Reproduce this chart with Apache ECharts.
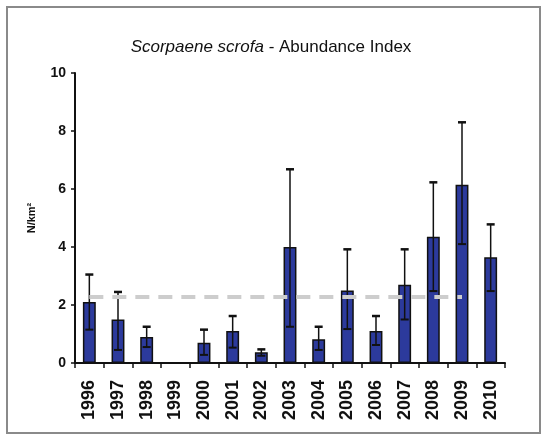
<!DOCTYPE html>
<html>
<head>
<meta charset="utf-8">
<script src="https://cdn.jsdelivr.net/npm/echarts@6/dist/echarts.min.js"></script>
<style>
  html, body { margin: 0; padding: 0; background: #fff; }
  #chart { width: 542px; height: 436px; }
</style>
</head>
<body>
<div id="chart"></div>
<script>
// data
var years = ['1996', '1997', '1998', '1999', '2000', '2001', '2002', '2003', '2004', '2005', '2006', '2007', '2008', '2009', '2010'];
var abundance = [2.1, 1.5, 0.9, 0, 0.7, 1.1, 0.37, 4.0, 0.82, 2.5, 1.1, 2.7, 4.35, 6.15, 3.65];
var errLow = [1.15, 0.45, 0.55, 0, 0.28, 0.53, 0.25, 1.25, 0.45, 1.17, 0.62, 1.5, 2.48, 4.1, 2.48];
var errHigh = [3.05, 2.45, 1.25, 0, 1.15, 1.62, 0.47, 6.68, 1.25, 3.92, 1.62, 3.92, 6.23, 8.3, 4.78];
var meanLevel = 2.3;
var yTicks = [0, 2, 4, 6, 8, 10];

var errData = years.map(function (y, i) {
    return [i, errLow[i], errHigh[i]];
}).filter(function (d) { return d[2] > 0; });

var chart = echarts.init(document.getElementById('chart'));
var option = {
    animation: false,
    backgroundColor: '#fff',
    title: {
        text: '{i|Scorpaene scrofa}{n| - Abundance Index}',
        left: 'center',
        top: 34,
        textStyle: {
            fontWeight: 'normal',
            rich: {
                i: { fontStyle: 'italic', fontWeight: 'normal', fontSize: 17, color: '#111', fontFamily: 'Liberation Sans Narrow, Liberation Sans, Arial' },
                n: { fontWeight: 'normal', fontSize: 17, color: '#111', fontFamily: 'Liberation Sans Narrow, Liberation Sans, Arial' }
            }
        }
    },
    graphic: [{
        type: 'rect',
        shape: { x: 7, y: 7, width: 533, height: 426 },
        style: { fill: 'none', stroke: '#8a8a8a', lineWidth: 2 },
        silent: true
    }],
    grid: { left: 75, right: 37, top: 73, bottom: 73 },
    xAxis: {
        type: 'category',
        data: years,
        axisLine: { lineStyle: { color: '#111', width: 2 } },
        axisTick: { show: true, length: 5, lineStyle: { color: '#111', width: 1.5 } },
        axisLabel: {
            rotate: 90,
            margin: 17,
            fontSize: 18,
            fontWeight: 'bold',
            color: '#111',
            fontFamily: 'Liberation Sans, Arial'
        }
    },
    yAxis: {
        type: 'value',
        min: yTicks[0],
        max: yTicks[yTicks.length - 1],
        interval: 2,
        name: 'N/km²',
        nameLocation: 'middle',
        nameRotate: 90,
        nameGap: 38,
        nameTextStyle: { fontSize: 11, fontWeight: 'bold', color: '#111', fontFamily: 'Liberation Sans Narrow, Liberation Sans, Arial' },
        axisLine: { show: true, lineStyle: { color: '#111', width: 2 } },
        axisTick: { show: true, length: 4, lineStyle: { color: '#111', width: 1.5 } },
        axisLabel: { fontSize: 14, fontWeight: 'bold', color: '#111', margin: 9, fontFamily: 'Liberation Sans Narrow, Liberation Sans, Arial' },
        splitLine: { show: false }
    },
    series: [
        {
            name: 'Abundance',
            type: 'bar',
            data: abundance,
            barWidth: '45%',
            itemStyle: { color: '#2c3a9c', borderColor: '#111', borderWidth: 1.5 },
            markLine: {
                silent: true,
                symbol: 'none',
                label: { show: false },
                lineStyle: { color: '#cdcdcd', width: 4, type: [14, 9] },
                data: [[
                    { coord: ['1996', meanLevel] },
                    { coord: ['2009', meanLevel] }
                ]]
            },
            z: 2
        },
        {
            name: 'Error',
            type: 'custom',
            data: errData,
            z: 3,
            renderItem: function (params, api) {
                var x = api.coord([api.value(0), 0])[0];
                var lo = api.coord([api.value(0), api.value(1)])[1];
                var hi = api.coord([api.value(0), api.value(2)])[1];
                var w = 4;
                var style = { stroke: '#111', lineWidth: 1.5 };
                return {
                    type: 'group',
                    children: [
                        { type: 'line', shape: { x1: x, y1: lo, x2: x, y2: hi }, style: style },
                        { type: 'line', shape: { x1: x - w, y1: hi, x2: x + w, y2: hi }, style: { stroke: '#111', lineWidth: 2.5 } },
                        { type: 'line', shape: { x1: x - w, y1: lo, x2: x + w, y2: lo }, style: { stroke: '#111', lineWidth: 2 } }
                    ]
                };
            }
        }
    ]
};
chart.setOption(option);
</script>
</body>
</html>
